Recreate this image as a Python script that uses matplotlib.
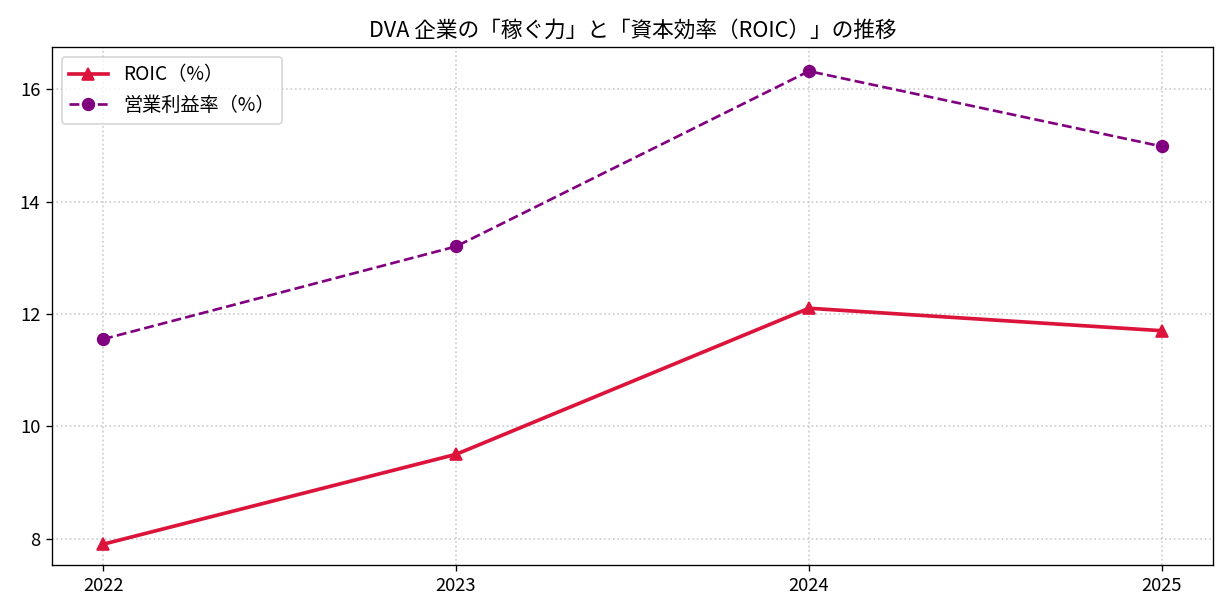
import matplotlib
matplotlib.use("Agg")
import matplotlib.pyplot as plt

plt.rcParams['font.family'] = ['Noto Sans CJK JP', 'DejaVu Sans']

years = ["2022", "2023", "2024", "2025"]
roic = [7.9, 9.5, 12.1, 11.7]
op_margin = [11.55, 13.2, 16.32, 14.98]

fig = plt.figure(figsize=(1228/120, 616/120), dpi=120)
ax = fig.add_axes([52/1228, 1-565/616, (1213-52)/1228, (565-47)/616])

x = list(range(len(years)))
ax.plot(x, roic, color='crimson', marker='^', linewidth=2.2, markersize=7, label='ROIC（%）')
ax.plot(x, op_margin, color='purple', marker='o', linestyle='--', linewidth=1.6, markersize=7, label='営業利益率（%）')

ax.set_xticks(x)
ax.set_xticklabels(years)
ax.set_yticks([8, 10, 12, 14, 16])
ax.set_xlim(-0.145, 3.145)
ax.set_ylim(7.53, 16.75)
ax.grid(True, linestyle=':', color='#cccccc', linewidth=1)
ax.set_title('DVA 企業の「稼ぐ力」と「資本効率（ROIC）」の推移', fontsize=13)
ax.legend(loc='upper left', fontsize=11.5)
ax.tick_params(labelsize=11)

fig.savefig('out.png', dpi=120)
